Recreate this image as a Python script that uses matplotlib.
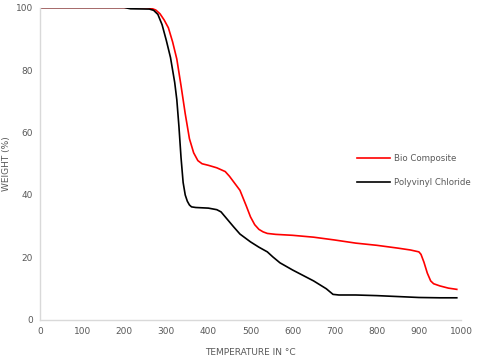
import matplotlib
matplotlib.use('Agg')
import matplotlib.pyplot as plt

# TGA curves
temp_bio = [0, 100, 200, 255, 265, 275, 285, 295, 305, 315, 325, 335, 345, 355, 365, 375,
            385, 400, 420, 440, 450, 460, 475, 490, 500, 510, 520, 530, 540, 560, 600,
            650, 700, 750, 800, 850, 880, 900, 905, 912, 920, 928, 935, 950, 970, 990]
wt_bio = [100, 100, 100, 99.9, 99.7, 99.2, 98, 96, 93.5, 89, 83.5, 75, 66, 58, 53.5, 51,
          50, 49.5, 48.7, 47.5, 46, 44.2, 41.5, 36.5, 33, 30.5, 29, 28.2, 27.7, 27.4, 27.1,
          26.5, 25.6, 24.6, 23.9, 23, 22.4, 21.8, 21, 18.5, 15, 12.5, 11.6, 10.9, 10.2, 9.8]

temp_pvc = [0, 100, 200, 215, 260, 270, 280, 290, 300, 310, 320, 325, 330, 335, 340, 345,
            350, 355, 360, 370, 400, 420, 430, 440, 460, 475, 500, 520, 540, 553, 570,
            600, 650, 680, 696, 710, 750, 800, 850, 900, 950, 990]
wt_pvc = [100, 100, 100, 99.6, 99.5, 99.1, 97.8, 94.5, 89.5, 84, 76, 70.5, 62, 52, 44, 40,
          38, 36.8, 36.2, 36, 35.8, 35.3, 34.6, 33, 29.8, 27.5, 25, 23.3, 21.8, 20.2, 18.3,
          16, 12.5, 10, 8.2, 8, 8, 7.8, 7.5, 7.2, 7.1, 7.1]

fig = plt.figure(figsize=(4.8, 3.61), dpi=100)
ax = fig.add_axes([0.0833, 0.1136, 0.8771, 0.8656])

ax.plot(temp_bio, wt_bio, color='#ff0000', lw=1.2, label='Bio Composite')
ax.plot(temp_pvc, wt_pvc, color='#000000', lw=1.2, label='Polyvinyl Chloride')

ax.set_xlim(0, 1000)
ax.set_ylim(0, 100)
ax.set_xticks(range(0, 1001, 100))
ax.set_yticks(range(0, 101, 20))
ax.tick_params(length=0, labelsize=6.5, labelcolor='#595959', pad=5)
for s in ['top', 'right']:
    ax.spines[s].set_visible(False)
for s in ['left', 'bottom']:
    ax.spines[s].set_color('#d9d9d9')
    ax.spines[s].set_linewidth(1.0)

ax.set_xlabel('TEMPERATURE IN °C', fontsize=6.5, color='#595959')
ax.xaxis.set_label_coords(0.5, -0.09)
ax.set_ylabel('WEIGHT (%)', fontsize=6.5, color='#595959')
ax.yaxis.set_label_coords(-0.07, 0.5)

ax.legend(loc='upper left', bbox_to_anchor=(0.735, 0.555), frameon=False,
          fontsize=6.2, labelcolor='#595959', handlelength=3.8, labelspacing=1.7,
          handletextpad=0.5)

fig.savefig('out.png', dpi=100, facecolor='white')
